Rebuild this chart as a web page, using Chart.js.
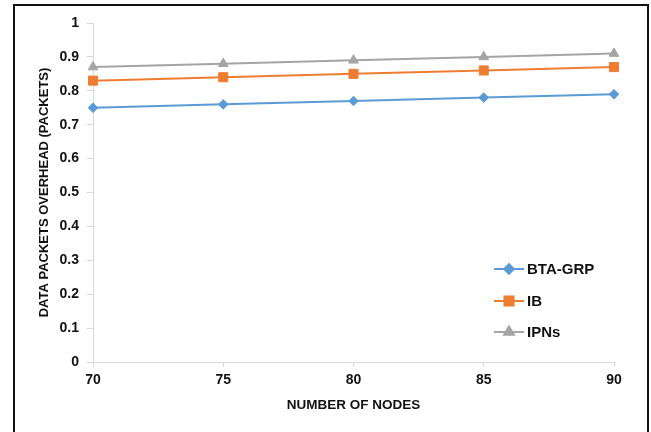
<!DOCTYPE html>
<html>
<head>
<meta charset="utf-8">
<script src="https://cdn.jsdelivr.net/npm/chart.js@4.4.1/dist/chart.umd.min.js"></script>
<style>
  html, body { margin: 0; padding: 0; background: #fff; overflow: hidden; }
  #wrap { position: relative; width: 651px; height: 432px; }
  #frame {
    position: absolute; left: 13px; top: 4px; width: 632px; height: 500px;
    border: 2px solid #111; pointer-events: none;
  }
</style>
</head>
<body>
<div id="wrap">
  <canvas id="chart" width="651" height="432"></canvas>
  <div id="frame"></div>
</div>
<script>
const nodes = [70, 75, 80, 85, 90];
const btaGrp = [0.75, 0.76, 0.77, 0.78, 0.79];
const ib = [0.83, 0.84, 0.85, 0.86, 0.87];
const ipns = [0.87, 0.88, 0.89, 0.90, 0.91];
const seriesNames = ["BTA-GRP", "IB", "IPNs"];

const FONT = "'Liberation Sans', Arial, sans-serif";
const AXIS_GREY = "#d9d9d9";

function toPoints(values) {
  return nodes.map((n, i) => ({ x: n, y: values[i] }));
}

function series(label, values, color, pointStyle, radius) {
  return {
    label,
    data: toPoints(values),
    borderColor: color,
    backgroundColor: color,
    borderWidth: 2,
    pointStyle,
    pointRadius: radius,
    pointBorderWidth: 1,
    pointBorderColor: color,
    pointBackgroundColor: color,
    tension: 0,
    clip: false,
  };
}

// legend drawn inside the plot, lower right, with line + marker samples
const innerLegend = {
  id: "innerLegend",
  afterDraw(chart) {
    const ctx = chart.ctx;
    const rows = [269, 301, 332];
    ctx.save();
    chart.data.datasets.forEach((ds, i) => {
      const y = rows[i];
      ctx.strokeStyle = ds.borderColor;
      ctx.lineWidth = 2;
      ctx.beginPath();
      ctx.moveTo(494, y);
      ctx.lineTo(524, y);
      ctx.stroke();
      ctx.fillStyle = ds.backgroundColor;
      Chart.helpers.drawPoint(ctx, {
        pointStyle: ds.pointStyle,
        radius: ds.pointRadius,
        borderWidth: 1,
        rotation: 0,
      }, 509, y);
      ctx.fillStyle = "#111";
      ctx.font = "bold 15px " + FONT;
      ctx.textAlign = "left";
      ctx.textBaseline = "middle";
      ctx.fillText(ds.label, 527, y + 1);
    });
    ctx.restore();
  },
};

new Chart(document.getElementById("chart"), {
  type: "line",
  data: {
    datasets: [
      series(seriesNames[0], btaGrp, "#5b9bd5", "rectRot", 4.8),
      series(seriesNames[1], ib, "#ed7d31", "rect", 6.4),
      series(seriesNames[2], ipns, "#a5a5a5", "triangle", 5.6),
    ],
  },
  options: {
    responsive: false,
    animation: false,
    layout: { padding: { top: 23, right: 37, left: 0, bottom: 0 } },
    plugins: {
      legend: { display: false },
      tooltip: { enabled: false },
    },
    scales: {
      x: {
        type: "linear",
        min: 70,
        max: 90,
        afterFit(scale) { scale.height = 70; },
        grid: { drawOnChartArea: false, drawTicks: true, tickLength: 5, color: AXIS_GREY },
        border: { color: AXIS_GREY, width: 1 },
        ticks: {
          stepSize: 5,
          padding: 5,
          color: "#111",
          font: { family: FONT, size: 14, weight: "bold" },
        },
        title: {
          display: true,
          text: "NUMBER OF NODES",
          color: "#111",
          padding: { top: 0, bottom: 19 },
          font: { family: FONT, size: 13.5, weight: "bold" },
        },
      },
      y: {
        min: 0,
        max: 1,
        afterFit(scale) { scale.width = 93; },
        grid: { drawOnChartArea: false, drawTicks: true, tickLength: 6, color: AXIS_GREY },
        border: { color: AXIS_GREY, width: 1 },
        ticks: {
          stepSize: 0.1,
          padding: 8,
          color: "#111",
          font: { family: FONT, size: 14, weight: "bold" },
          callback: (v) => String(Math.round(v * 10) / 10),
        },
        title: {
          display: true,
          text: "DATA PACKETS OVERHEAD (PACKETS)",
          color: "#111",
          padding: { top: 37, bottom: 0 },
          font: { family: FONT, size: 13, weight: "bold" },
        },
      },
    },
  },
  plugins: [innerLegend],
});
</script>
</body>
</html>
